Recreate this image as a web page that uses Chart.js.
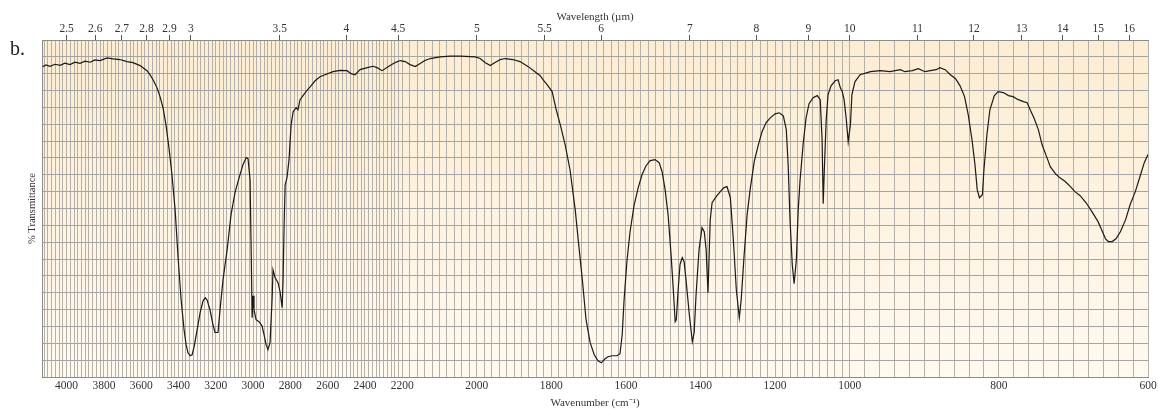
<!DOCTYPE html>
<html>
<head>
<meta charset="utf-8">
<script src="https://cdn.jsdelivr.net/npm/chart.js@4.4.1/dist/chart.umd.min.js"></script>
<style>
  html, body { margin: 0; padding: 0; background: #ffffff; }
  #wrap { position: relative; width: 1158px; height: 409px; }
  #panel { position: absolute; left: 10px; top: 38px; font-family: 'Liberation Serif', serif; font-size: 20px; line-height: 20px; color: #222; }
  canvas { display: block; }
</style>
</head>
<body>
<div id="wrap">
  <canvas id="c" width="1158" height="409"></canvas>
  <div id="panel">b.</div>
</div>
<script>
// ---------------- data ----------------
const WAVENUMBERS = [
  4127,4111,4089,4062,4035,4009,3982,3955,3928,3901,3874,3848,3821,3783,3751,3714,3676,3644,3606,3569,
  3553,3536,3515,3499,3483,3467,3451,3435,3418,3402,3386,3370,3359,3349,3338,3327,3316,3300,3284,3268,
  3257,3247,3231,3215,3204,3188,3177,3161,3139,3118,3097,3075,3054,3037,3027,3016,3011,3005,3000,2995,
  2984,2968,2952,2941,2930,2920,2909,2898,2893,2882,2866,2855,2844,2839,2834,2828,2818,2807,2796,2785,
  2769,2759,2748,2732,2716,2694,2667,2641,2614,2571,2533,2496,2474,2453,2426,2388,2356,2335,2308,2265,
  2238,2211,2192,2179,2165,2152,2139,2125,2098,2072,2045,2004,1991,1978,1964,1951,1937,1924,1903,1884,
  1862,1844,1830,1822,1811,1798,1787,1776,1763,1750,1736,1728,1717,1707,1696,1685,1675,1666,1656,1648,
  1637,1624,1616,1610,1605,1597,1589,1578,1567,1557,1546,1535,1522,1511,1503,1495,1487,1479,1473,1468,
  1465,1460,1455,1449,1444,1439,1430,1422,1417,1412,1404,1396,1390,1385,1380,1374,1369,1358,1347,1337,
  1329,1320,1312,1304,1296,1291,1283,1275,1267,1256,1245,1235,1224,1213,1200,1189,1178,1170,1165,1160,
  1154,1149,1143,1138,1133,1125,1117,1109,1098,1087,1079,1074,1071,1068,1063,1058,1050,1039,1031,1025,
  1020,1015,1009,1004,999,997,993,986,972,959,946,932,926,916,908,899,892,884,879,872,
  865,858,852,846,841,836,832,829,826,822,820,816,812,806,801,794,787,781,774,767,
  762,758,753,747,742,736,731,724,718,711,704,698,691,683,675,667,661,657,653,648,
  643,637,630,624,617,610,605,600
];
const TRANSMITTANCE = [
  92.1,92.6,92.2,92.8,92.5,93.1,92.7,93.4,93.1,93.7,93.4,94.1,93.9,94.7,94.4,94.2,93.6,93.3,92.4,90.9,
  89.7,88.2,85.8,83.2,79.9,74.8,68.0,60.0,49.6,35.4,23.0,14.0,9.6,7.2,6.3,6.6,9.0,14.0,19.1,22.6,
  23.5,22.9,20.0,15.5,13.2,13.2,20.0,28.9,37.8,48.2,54.7,59.1,63.0,65.1,64.8,58.5,40.7,17.6,24.1,20.0,
  17.0,16.4,15.2,12.6,9.6,8.1,10.2,22.9,31.8,29.5,28.0,25.3,20.6,28.9,43.7,57.0,59.1,64.5,74.8,78.7,
  79.9,79.3,82.3,83.5,84.7,86.1,87.9,89.1,89.7,90.6,91.0,90.9,90.0,89.7,91.2,91.8,92.2,91.8,90.9,92.4,
  93.3,93.9,93.6,92.7,92.1,93.0,93.9,94.5,95.0,95.2,95.2,95.0,94.5,93.3,92.4,93.3,94.2,94.5,94.2,93.6,
  92.1,90.6,89.4,88.2,86.7,84.7,79.3,74.8,68.9,61.5,49.6,40.7,28.9,17.0,10.2,6.6,4.8,4.2,5.4,6.0,
  6.3,6.3,6.9,12.6,22.9,34.8,43.1,51.1,56.2,60.0,62.7,64.2,64.5,63.6,60.9,55.6,48.2,36.3,25.9,16.4,
  17.0,25.9,33.4,35.4,34.2,28.9,18.5,10.5,13.2,24.4,37.8,44.3,43.1,37.8,25.0,46.7,51.7,53.5,55.0,56.2,
  56.5,53.2,40.7,25.9,17.6,22.9,36.3,48.2,55.6,63.9,68.9,72.8,75.5,76.9,78.1,78.4,77.5,73.4,63.0,46.7,
  33.4,27.7,34.8,49.6,58.5,68.9,76.9,81.1,82.9,83.5,82.3,70.4,51.4,61.5,76.3,83.8,86.4,87.9,88.2,85.8,
  84.7,82.3,76.3,69.8,74.9,83.8,87.6,89.7,90.6,90.9,90.6,91.2,90.6,90.9,91.5,90.6,90.9,91.2,91.8,91.2,
  89.7,88.5,86.4,83.2,77.8,70.4,63.0,55.6,53.2,54.1,61.5,71.9,79.3,83.5,84.7,84.4,83.5,83.2,82.3,81.7,
  81.4,79.3,76.9,73.4,68.9,65.4,62.4,60.3,59.1,58.0,56.5,55.0,53.8,51.7,49.0,46.1,43.1,41.0,40.2,40.2,
  41.0,43.1,46.7,51.1,55.0,60.0,63.6,66.0
];
const WAVENUMBER_LABELS = [4000,3800,3600,3400,3200,3000,2800,2600,2400,2200,2000,1800,1600,1400,1200,1000,800,600];
const WAVELENGTH_LABELS = ['2.5','2.6','2.7','2.8','2.9','3','3.5','4','4.5','5','5.5','6','7','8','9','10','11','12','13','14','15','16'];
const WAVENUMBER_MAX = 4132;
const WAVENUMBER_MIN = 600;
const GRID_STEP_X = 20;
const GRID_STEP_Y = 5;

// ---------------- piecewise IR wavenumber scale ----------------
// scale expands x2 below 2200 cm-1 and x4 below 1000 cm-1
function toUnits(w) {
  if (w >= 2200) return WAVENUMBER_MAX - w;
  if (w >= 1000) return (WAVENUMBER_MAX - 2200) + 2 * (2200 - w);
  return (WAVENUMBER_MAX - 2200) + 2400 + 4 * (1000 - w);
}
const U_A = WAVENUMBER_MAX - 2200;
const U_B = U_A + 2400;
const U_TOTAL = toUnits(WAVENUMBER_MIN);
function fromUnits(u) {
  if (u <= U_A) return WAVENUMBER_MAX - u;
  if (u <= U_B) return 2200 - (u - U_A) / 2;
  return 1000 - (u - U_B) / 4;
}
class IRWavenumberScale extends Chart.LinearScale {
  getPixelForValue(value) {
    if (value === null || value === undefined) return NaN;
    return this.getPixelForDecimal(toUnits(value) / U_TOTAL);
  }
  getValueForPixel(pixel) {
    return fromUnits(this.getDecimalForPixel(pixel) * U_TOTAL);
  }
}
IRWavenumberScale.id = 'irWavenumber';
IRWavenumberScale.defaults = Chart.LinearScale.defaults;
Chart.register(IRWavenumberScale);

const gridX = [];
for (let w = WAVENUMBER_MIN; w <= WAVENUMBER_MAX; w += GRID_STEP_X) gridX.push(w);
const gridY = [];
for (let t = 0; t <= 100; t += GRID_STEP_Y) gridY.push(t);

const FONT = "'Liberation Serif', 'Times New Roman', serif";
const GRID_COLOR_V = '#b4b0aa';
const GRID_COLOR_H = '#a4a4a4';
const BORDER_COLOR = '#8c8c8c';
const TEXT_COLOR = '#333333';

const bgPlugin = {
  id: 'paperBg',
  beforeDraw(chart) {
    const {ctx, chartArea: a} = chart;
    const g = ctx.createLinearGradient(0, a.top, 0, a.bottom);
    g.addColorStop(0, 'rgb(252,237,210)');
    g.addColorStop(1, 'rgb(255,249,240)');
    ctx.save();
    ctx.fillStyle = g;
    ctx.fillRect(a.left, a.top, a.right - a.left, a.bottom - a.top);
    ctx.restore();
  }
};

new Chart(document.getElementById('c'), {
  type: 'line',
  data: {
    datasets: [{
      data: WAVENUMBERS.map((w, i) => ({x: w, y: TRANSMITTANCE[i]})),
      borderColor: '#1a1a1a',
      borderWidth: 1.2,
      pointRadius: 0,
      tension: 0,
      fill: false,
      xAxisID: 'x',
      yAxisID: 'y'
    }]
  },
  options: {
    responsive: false,
    animation: false,
    devicePixelRatio: 1,
    layout: { padding: { left: 20, right: 10, top: 0, bottom: 0 } },
    plugins: { legend: { display: false }, tooltip: { enabled: false }, title: { display: false } },
    scales: {
      x: {
        type: 'irWavenumber',
        position: 'bottom',
        min: WAVENUMBER_MIN,
        max: WAVENUMBER_MAX,
        afterBuildTicks: s => { s.ticks = gridX.map(v => ({value: v})); },
        afterFit: s => { s.height = 32; },
        ticks: {
          autoSkip: false, maxRotation: 0, minRotation: 0, padding: 3,
          color: TEXT_COLOR, font: { family: FONT, size: 11.5, lineHeight: 1 },
          callback: v => WAVENUMBER_LABELS.includes(v) ? String(v) : ''
        },
        grid: { color: GRID_COLOR_V, lineWidth: 1, drawTicks: false },
        border: { color: BORDER_COLOR, width: 1 },
        title: {
          display: true, text: 'Wavenumber (cm⁻¹)', color: TEXT_COLOR,
          padding: { top: 0, bottom: -1 }, font: { family: FONT, size: 11, lineHeight: 1.2 }
        }
      },
      x2: {
        type: 'irWavenumber',
        position: 'top',
        min: WAVENUMBER_MIN,
        max: WAVENUMBER_MAX,
        afterBuildTicks: s => { s.ticks = WAVELENGTH_LABELS.map(l => ({value: 10000 / parseFloat(l)})); },
        afterFit: s => { s.height = 40; },
        ticks: {
          autoSkip: false, maxRotation: 0, minRotation: 0, padding: 0,
          color: TEXT_COLOR, font: { family: FONT, size: 11.5, lineHeight: 1 },
          callback: (v, i) => WAVELENGTH_LABELS[i]
        },
        grid: { drawOnChartArea: false, drawTicks: true, tickLength: 5, color: '#555555', lineWidth: 1 },
        border: { color: BORDER_COLOR, width: 1 },
        title: {
          display: true, text: 'Wavelength (µm)', color: TEXT_COLOR,
          padding: { top: 11, bottom: 0 }, font: { family: FONT, size: 11, lineHeight: 1.2 }
        }
      },
      y: {
        type: 'linear',
        position: 'left',
        min: 0,
        max: 100,
        afterBuildTicks: s => { s.ticks = gridY.map(v => ({value: v})); },
        afterFit: s => { s.width = 22; },
        ticks: { display: false },
        grid: { color: GRID_COLOR_H, lineWidth: 1, drawTicks: false },
        border: { color: BORDER_COLOR, width: 1 },
        title: {
          display: true, text: '% Transmittance', color: TEXT_COLOR,
          padding: { top: 6, bottom: 0 }, font: { family: FONT, size: 10.5, lineHeight: 1.2 }
        }
      }
    }
  },
  plugins: [bgPlugin]
});
</script>
</body>
</html>
